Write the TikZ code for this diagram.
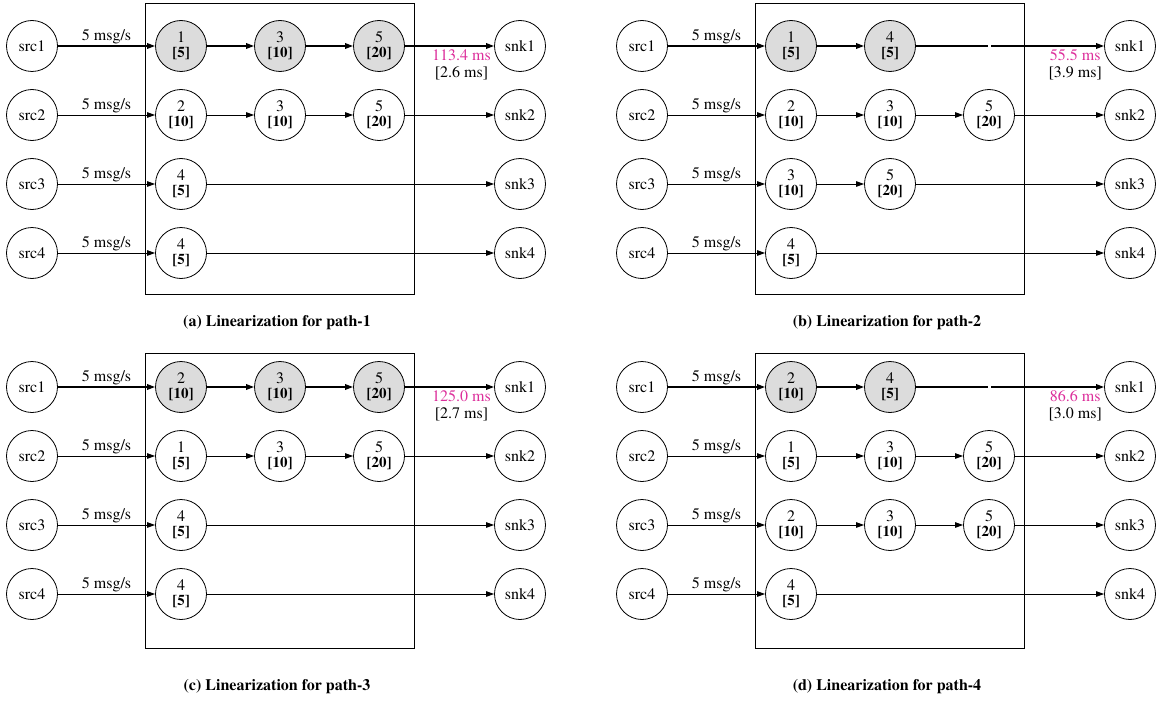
\documentclass[tikz,border=0pt]{standalone}
\usepackage[T1]{fontenc}
\renewcommand\rmdefault{ptm}
\usetikzlibrary{arrows.meta,calc}
\definecolor{hl}{HTML}{DCDCDC}
\definecolor{lat}{HTML}{DC2F9B}
\newcommand\nv[2]{#1\\[-1pt]{\fontsize{15}{15}\selectfont\bfseries[#2]}}
\tikzset{
  vtx/.style={circle,draw,line width=0.8pt,minimum size=51pt,inner sep=0pt,
    font=\fontsize{16}{16}\selectfont,align=center},
  hot/.style={vtx,fill=hl},
  edge/.style={line width=0.8pt,-{Triangle[length=8pt,width=5.5pt]}},
  hedge/.style={edge,line width=1.6pt},
  hline/.style={line width=1.6pt},
  grp/.style={draw,line width=0.9pt},
  rate/.style={font=\fontsize{16}{16}\selectfont,above=0.5pt,inner sep=1pt},
  latency/.style={align=center,font=\fontsize{16}{17}\selectfont,anchor=north east,inner sep=0pt,text=lat},
  captxt/.style={font=\fontsize{16}{16}\selectfont\bfseries}
}
\begin{document}
\begin{tikzpicture}[x=1pt,y=-1pt]
\useasboundingbox (0,0) rectangle (1156,706);
% ---------------- panel a
\begin{scope}
\draw[grp] (145,3) rectangle (414,294);
\node[vtx] (asrc1) at (32,46) {src1};
\node[vtx] (asrc2) at (32,115) {src2};
\node[vtx] (asrc3) at (32,184) {src3};
\node[vtx] (asrc4) at (32,253) {src4};
\node[vtx] (asnk1) at (520,46) {snk1};
\node[vtx] (asnk2) at (520,115) {snk2};
\node[vtx] (asnk3) at (520,184) {snk3};
\node[vtx] (asnk4) at (520,253) {snk4};
\node[hot] (a11) at (181,46) {\nv{1}{5}};
\node[hot] (a12) at (280,46) {\nv{3}{10}};
\node[hot] (a13) at (379,46) {\nv{5}{20}};
\node[vtx] (a21) at (181,115) {\nv{2}{10}};
\node[vtx] (a22) at (280,115) {\nv{3}{10}};
\node[vtx] (a23) at (379,115) {\nv{5}{20}};
\node[vtx] (a31) at (181,184) {\nv{4}{5}};
\node[vtx] (a41) at (181,253) {\nv{4}{5}};
\draw[hedge] (asrc1) -- node[rate]{5 msg/s} (a11);
\draw[hedge] (a11) -- (a12);
\draw[hedge] (a12) -- (a13);
\draw[hedge] (a13) -- (asnk1);
\draw[edge] (asrc2) -- node[rate]{5 msg/s} (a21);
\draw[edge] (a21) -- (a22);
\draw[edge] (a22) -- (a23);
\draw[edge] (a23) -- (asnk2);
\draw[edge] (asrc3) -- node[rate]{5 msg/s} (a31);
\draw[edge] (a31) -- (asnk3);
\draw[edge] (asrc4) -- node[rate]{5 msg/s} (a41);
\draw[edge] (a41) -- (asnk4);
\node[latency] (alat) at ([xshift=-3pt,yshift=-3pt]asnk1.west) {113.4 ms\\{\color{black}[2.6 ms]}};
\node[captxt] (acap) at (277,323) {(a) Linearization for path-1};
\end{scope}
% ---------------- panel b
\begin{scope}[shift={(610,0)}]
\draw[grp] (145,3) rectangle (414,294);
\node[vtx] (bsrc1) at (32,46) {src1};
\node[vtx] (bsrc2) at (32,115) {src2};
\node[vtx] (bsrc3) at (32,184) {src3};
\node[vtx] (bsrc4) at (32,253) {src4};
\node[vtx] (bsnk1) at (520,46) {snk1};
\node[vtx] (bsnk2) at (520,115) {snk2};
\node[vtx] (bsnk3) at (520,184) {snk3};
\node[vtx] (bsnk4) at (520,253) {snk4};
\node[hot] (b11) at (181,46) {\nv{1}{5}};
\node[hot] (b12) at (280,46) {\nv{4}{5}};
\coordinate (bg1) at (377.5,46);
\coordinate (bg2) at (381,46);
\node[vtx] (b21) at (181,115) {\nv{2}{10}};
\node[vtx] (b22) at (280,115) {\nv{3}{10}};
\node[vtx] (b23) at (379,115) {\nv{5}{20}};
\node[vtx] (b31) at (181,184) {\nv{3}{10}};
\node[vtx] (b32) at (280,184) {\nv{5}{20}};
\node[vtx] (b41) at (181,253) {\nv{4}{5}};
\draw[hedge] (bsrc1) -- node[rate]{5 msg/s} (b11);
\draw[hedge] (b11) -- (b12);
\draw[hline] (b12) -- (bg1);
\draw[hedge] (bg2) -- (bsnk1);
\draw[edge] (bsrc2) -- node[rate]{5 msg/s} (b21);
\draw[edge] (b21) -- (b22);
\draw[edge] (b22) -- (b23);
\draw[edge] (b23) -- (bsnk2);
\draw[edge] (bsrc3) -- node[rate]{5 msg/s} (b31);
\draw[edge] (b31) -- (b32);
\draw[edge] (b32) -- (bsnk3);
\draw[edge] (bsrc4) -- node[rate]{5 msg/s} (b41);
\draw[edge] (b41) -- (bsnk4);
\node[latency] (blat) at ([xshift=-2pt,yshift=-3pt]bsnk1.west) {55.5 ms\\{\color{black}[3.9 ms]}};
\node[captxt] (bcap) at (277,323) {(b) Linearization for path-2};
\end{scope}
% ---------------- panel c
\begin{scope}[shift={(0,350)}]
\draw[grp] (145,3) rectangle (414,298);
\node[vtx] (csrc1) at (32,37) {src1};
\node[vtx] (csrc2) at (32,106) {src2};
\node[vtx] (csrc3) at (32,175) {src3};
\node[vtx] (csrc4) at (32,244) {src4};
\node[vtx] (csnk1) at (520,37) {snk1};
\node[vtx] (csnk2) at (520,106) {snk2};
\node[vtx] (csnk3) at (520,175) {snk3};
\node[vtx] (csnk4) at (520,244) {snk4};
\node[hot] (c11) at (181,37) {\nv{2}{10}};
\node[hot] (c12) at (280,37) {\nv{3}{10}};
\node[hot] (c13) at (379,37) {\nv{5}{20}};
\node[vtx] (c21) at (181,106) {\nv{1}{5}};
\node[vtx] (c22) at (280,106) {\nv{3}{10}};
\node[vtx] (c23) at (379,106) {\nv{5}{20}};
\node[vtx] (c31) at (181,175) {\nv{4}{5}};
\node[vtx] (c41) at (181,244) {\nv{4}{5}};
\draw[hedge] (csrc1) -- node[rate]{5 msg/s} (c11);
\draw[hedge] (c11) -- (c12);
\draw[hedge] (c12) -- (c13);
\draw[hedge] (c13) -- (csnk1);
\draw[edge] (csrc2) -- node[rate]{5 msg/s} (c21);
\draw[edge] (c21) -- (c22);
\draw[edge] (c22) -- (c23);
\draw[edge] (c23) -- (csnk2);
\draw[edge] (csrc3) -- node[rate]{5 msg/s} (c31);
\draw[edge] (c31) -- (csnk3);
\draw[edge] (csrc4) -- node[rate]{5 msg/s} (c41);
\draw[edge] (c41) -- (csnk4);
\node[latency] (clat) at ([xshift=-3pt,yshift=-3pt]csnk1.west) {125.0 ms\\{\color{black}[2.7 ms]}};
\node[captxt] (ccap) at (277,337) {(c) Linearization for path-3};
\end{scope}
% ---------------- panel d
\begin{scope}[shift={(610,350)}]
\draw[grp] (145,3) rectangle (414,298);
\node[vtx] (dsrc1) at (32,37) {src1};
\node[vtx] (dsrc2) at (32,106) {src2};
\node[vtx] (dsrc3) at (32,175) {src3};
\node[vtx] (dsrc4) at (32,244) {src4};
\node[vtx] (dsnk1) at (520,37) {snk1};
\node[vtx] (dsnk2) at (520,106) {snk2};
\node[vtx] (dsnk3) at (520,175) {snk3};
\node[vtx] (dsnk4) at (520,244) {snk4};
\node[hot] (d11) at (181,37) {\nv{2}{10}};
\node[hot] (d12) at (280,37) {\nv{4}{5}};
\coordinate (dg1) at (377.5,37);
\coordinate (dg2) at (381,37);
\node[vtx] (d21) at (181,106) {\nv{1}{5}};
\node[vtx] (d22) at (280,106) {\nv{3}{10}};
\node[vtx] (d23) at (379,106) {\nv{5}{20}};
\node[vtx] (d31) at (181,175) {\nv{2}{10}};
\node[vtx] (d32) at (280,175) {\nv{3}{10}};
\node[vtx] (d33) at (379,175) {\nv{5}{20}};
\node[vtx] (d41) at (181,244) {\nv{4}{5}};
\draw[hedge] (dsrc1) -- node[rate]{5 msg/s} (d11);
\draw[hedge] (d11) -- (d12);
\draw[hline] (d12) -- (dg1);
\draw[hedge] (dg2) -- (dsnk1);
\draw[edge] (dsrc2) -- node[rate]{5 msg/s} (d21);
\draw[edge] (d21) -- (d22);
\draw[edge] (d22) -- (d23);
\draw[edge] (d23) -- (dsnk2);
\draw[edge] (dsrc3) -- node[rate]{5 msg/s} (d31);
\draw[edge] (d31) -- (d32);
\draw[edge] (d32) -- (d33);
\draw[edge] (d33) -- (dsnk3);
\draw[edge] (dsrc4) -- node[rate]{5 msg/s} (d41);
\draw[edge] (d41) -- (dsnk4);
\node[latency] (dlat) at ([xshift=-2pt,yshift=-3pt]dsnk1.west) {86.6 ms\\{\color{black}[3.0 ms]}};
\node[captxt] (dcap) at (277,337) {(d) Linearization for path-4};
\end{scope}
\end{tikzpicture}
\end{document}
